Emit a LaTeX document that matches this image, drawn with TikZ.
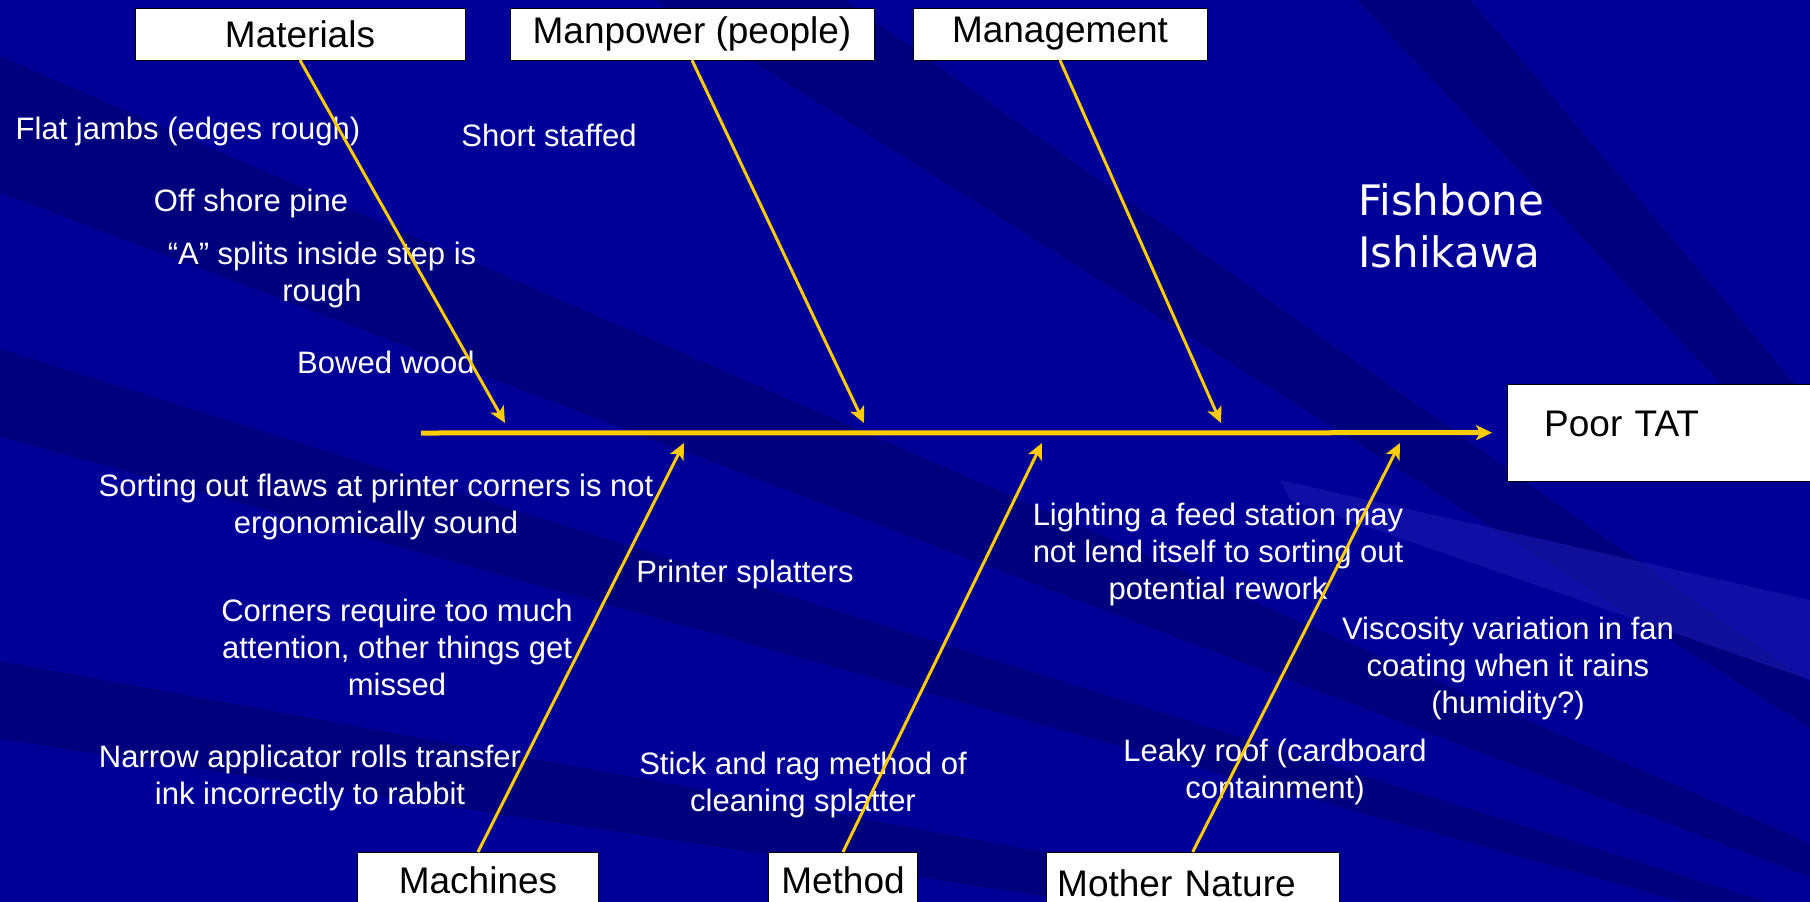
\documentclass[tikz,border=0pt]{standalone}
\usepackage{fontspec}
\setmainfont{Liberation Sans}
\newfontfamily\titlefont{DejaVu Sans}
\usetikzlibrary{arrows.meta}
\definecolor{slideblue}{RGB}{0,0,152}
\definecolor{streakblue}{RGB}{0,0,126}
\definecolor{glowblue}{RGB}{30,30,180}
\definecolor{boneyellow}{RGB}{255,204,0}
\tikzset{
  cause/.style={
    draw=black,
    fill=white,
    minimum height=52,
    inner sep=0pt,
    font=\fontsize{37}{40}\selectfont
  },
  note/.style={
    text=white,
    align=center,
    inner sep=0pt,
    font=\fontsize{31}{37}\selectfont
  },
  bone/.style={draw=boneyellow, line width=3pt},
  spine/.style={bone, line width=5pt}
}

\begin{document}
\begin{tikzpicture}[x=1pt, y=-1pt, ->, >={Stealth[length=16pt, width=15pt, inset=4pt]}]
        \useasboundingbox (0,0) rectangle (1810,902);
        \clip (0,0) rectangle (1810,902);

        % background and streaks
        \fill[slideblue] (0,0) rectangle (1810,902);
        \coordinate (fan) at (2400,1100);
        \foreach \ya/\yb in {30/170, 330/420, 650/730}
            \fill[streakblue] (fan) -- (-60,\ya) -- (-60,\yb) -- cycle;
        \foreach \xa/\xb in {560/760, 1300/1420}
            \fill[streakblue] (fan) -- (\xa,-60) -- (\xb,-60) -- cycle;
        \fill[glowblue, opacity=0.5] (1280,480) -- (1810,600) -- (1810,680) -- (1290,500) -- cycle;

        % Define the cause boxes
        \node[cause, minimum width=330] (mat)    at (300,34)  {Materials};
        \node[cause, minimum width=364] (man)    at (692,34)  {Manpower (people)};
        \node[cause, minimum width=294] (mgmt)   at (1060,34) {Management};
        \node[cause, minimum width=241, minimum height=56, anchor=north] (mach) at (478,852) {Machines};
        \node[cause, minimum width=149, minimum height=56, anchor=north] (meth) at (843,852) {Method};
        \node[cause, minimum width=293, minimum height=62, anchor=north west,
              text width=271, align=left] (nature) at (1046,852) {Mother Nature};
        \node[cause, minimum width=330, minimum height=97, anchor=north west,
              text width=256, align=left, text depth=18pt] (effect) at (1507,384) {Poor TAT};

        % spine and bone ends
        \coordinate (tail)   at (421,433);
        \coordinate (matend) at (505,423);
        \coordinate (manend) at (864,423);
        \coordinate (mgend)  at (1221,423);
        \coordinate (maend)  at (684,443);
        \coordinate (meend)  at (1042,443);
        \coordinate (naend)  at (1400,443);

        % causes noted along each bone
        \node[note] (flat)      at (188,131)  {Flat jambs (edges rough)};
        \node[note] (staffed)   at (549,135)  {Short staffed};
        \node[note] (pine)      at (251,203)  {Off shore pine};
        \node[note] (splits)    at (322,275)  {``A'' splits inside step is\\rough};
        \node[note] (bowed)     at (386,362)  {Bowed wood};
        \node[note] (sorting)   at (376,507)  {Sorting out flaws at printer corners is not\\ergonomically sound};
        \node[note] (splatter)  at (745,574)  {Printer splatters};
        \node[note] (corners)   at (397,647)  {Corners require too much\\attention, other things get\\missed};
        \node[note] (rolls)     at (310,778)  {Narrow applicator rolls transfer\\ink incorrectly to rabbit};
        \node[note] (rag)       at (803,785)  {Stick and rag method of\\cleaning splatter};
        \node[note] (lighting)  at (1218,554) {Lighting a feed station may\\not lend itself to sorting out\\potential rework};
        \node[note] (viscosity) at (1508,668) {Viscosity variation in fan\\coating when it rains\\(humidity?)};
        \node[note] (roof)      at (1275,772) {Leaky roof (cardboard\\containment)};

        \node[text=white, align=left, inner sep=0pt, anchor=west,
              font=\titlefont\fontsize{42}{52}\selectfont] (title) at (1358,226) {Fishbone\\Ishikawa};

        % Arrows into the spine
        \draw[spine] (tail) -- ([xshift=-15pt]effect.west);
        \draw[bone] (mat.south)    -- (matend);
        \draw[bone] (man.south)    -- (manend);
        \draw[bone] (mgmt.south)   -- (mgend);
        \draw[bone] (mach.north)   -- (maend);
        \draw[bone] (meth.north)   -- (meend);
        \draw[bone] (nature.north) -- (naend);
\end{tikzpicture}
\end{document}
